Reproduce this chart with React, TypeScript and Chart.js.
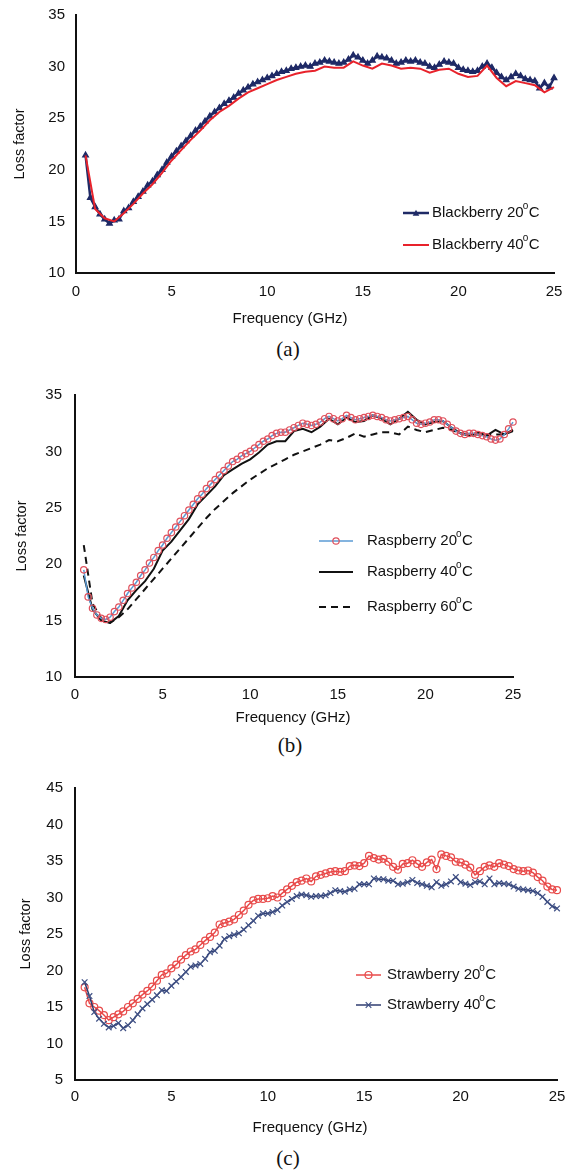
import React, { useEffect, useRef } from "react";
import { Chart, registerables } from "chart.js";
Chart.register(...registerables);

// ---------- data ----------
const freqQ = [0.5, 0.75, 1, 1.25, 1.5, 1.75, 2, 2.25, 2.5, 2.75, 3, 3.25, 3.5, 3.75, 4, 4.25, 4.5, 4.75, 5, 5.25, 5.5, 5.75, 6, 6.25, 6.5, 6.75, 7, 7.25, 7.5, 7.75, 8, 8.25, 8.5, 8.75, 9, 9.25, 9.5, 9.75, 10, 10.25, 10.5, 10.75, 11, 11.25, 11.5, 11.75, 12, 12.25, 12.5, 12.75, 13, 13.25, 13.5, 13.75, 14, 14.25, 14.5, 14.75, 15, 15.25, 15.5, 15.75, 16, 16.25, 16.5, 16.75, 17, 17.25, 17.5, 17.75, 18, 18.25, 18.5, 18.75, 19, 19.25, 19.5, 19.75, 20, 20.25, 20.5, 20.75, 21, 21.25, 21.5, 21.75, 22, 22.25, 22.5, 22.75, 23, 23.25, 23.5, 23.75, 24, 24.25, 24.5, 24.75, 25];
const freqH = [0.5, 1, 1.5, 2, 2.5, 3, 3.5, 4, 4.5, 5, 5.5, 6, 6.5, 7, 7.5, 8, 8.5, 9, 9.5, 10, 10.5, 11, 11.5, 12, 12.5, 13, 13.5, 14, 14.5, 15, 15.5, 16, 16.5, 17, 17.5, 18, 18.5, 19, 19.5, 20, 20.5, 21, 21.5, 22, 22.5, 23, 23.5, 24, 24.5, 25];

const blackberry20 = [21.4, 17.3, 16.4, 15.7, 15.2, 14.8, 15.1, 15.2, 16.0, 16.3,
  16.9, 17.4, 17.9, 18.5, 18.9, 19.5, 20.0, 20.7, 21.3, 21.8,
  22.3, 22.8, 23.3, 23.8, 24.2, 24.7, 25.2, 25.6, 26.0, 26.4,
  26.7, 27.0, 27.4, 27.7, 28.0, 28.3, 28.5, 28.7, 28.9, 29.1,
  29.3, 29.5, 29.6, 29.8, 29.9, 30.0, 30.1, 30.0, 30.3, 30.4,
  30.6, 30.5, 30.4, 30.3, 30.4, 30.7, 31.1, 30.9, 30.6, 30.3,
  30.6, 31.0, 30.9, 30.8, 30.6, 30.3, 30.4, 30.6, 30.5, 30.6,
  30.4, 30.3, 30.0, 29.9, 30.2, 30.5, 30.4, 30.3, 29.9, 29.7,
  29.6, 29.5, 29.6, 30.0, 30.3, 29.9, 29.4, 29.0, 28.7, 29.0,
  29.3, 29.1, 28.8, 28.7, 28.6, 27.9, 28.4, 28.0, 28.9];
const blackberry40 = [21.4, 16.2, 15.3, 15.0, 15.8, 16.7, 17.7, 18.6, 19.7, 20.9,
  21.9, 22.9, 23.8, 24.8, 25.6, 26.2, 26.9, 27.5, 27.9, 28.3,
  28.7, 29.0, 29.3, 29.5, 29.6, 30.0, 29.9, 29.9, 30.5, 30.1,
  29.8, 30.3, 30.1, 29.8, 29.9, 29.8, 29.4, 29.7, 29.8, 29.3,
  29.0, 29.1, 30.1, 28.9, 28.1, 28.6, 28.4, 28.2, 27.5, 28.0];

const raspberry20 = [19.5, 17.1, 16.1, 15.5, 15.2, 15.1, 15.3, 15.8, 16.2, 16.8,
  17.4, 17.9, 18.4, 19.0, 19.5, 20.1, 20.6, 21.2, 21.7, 22.3,
  22.8, 23.3, 23.8, 24.3, 24.8, 25.3, 25.8, 26.2, 26.7, 27.1,
  27.5, 27.9, 28.3, 28.7, 29.1, 29.3, 29.6, 29.8, 30.0, 30.3,
  30.6, 30.9, 31.1, 31.4, 31.6, 31.7, 31.7, 31.9, 32.1, 32.3,
  32.5, 32.4, 32.3, 32.4, 32.6, 32.9, 33.1, 32.9, 32.7, 32.9,
  33.2, 33.0, 32.8, 32.9, 33.0, 33.1, 33.2, 33.1, 33.0, 32.8,
  32.7, 32.8, 32.9, 33.0, 33.1, 32.8, 32.5, 32.4, 32.5, 32.6,
  32.8, 32.8, 32.7, 32.4, 32.1, 31.8, 31.6, 31.5, 31.6, 31.6,
  31.5, 31.4, 31.3, 31.1, 31.0, 31.1, 31.5, 32.0, 32.6];
const raspberry40 = [19.0, 16.0, 15.0, 14.8, 15.4, 16.8, 17.7, 18.5, 19.6, 21.2,
  22.0, 23.0, 24.0, 25.3, 26.1, 26.9, 27.9, 28.4, 28.9, 29.3,
  29.9, 30.6, 30.9, 30.9, 31.8, 32.0, 31.7, 32.2, 32.9, 32.4,
  33.0, 32.6, 32.7, 33.2, 32.9, 32.4, 32.9, 33.5, 32.8, 32.4,
  32.6, 32.7, 32.1, 31.6, 31.4, 31.7, 31.4, 31.9, 31.5, 31.9];
const raspberry60 = [21.7, 16.5, 15.2, 14.8, 15.3, 16.0, 16.9, 17.8, 18.7, 19.6,
  20.5, 21.4, 22.3, 23.2, 24.1, 24.9, 25.6, 26.3, 26.9, 27.5,
  28.0, 28.5, 28.9, 29.3, 29.7, 30.0, 30.3, 30.6, 31.0, 30.9,
  31.2, 31.6, 31.3, 31.5, 31.7, 31.7, 31.5, 32.2, 31.9, 31.7,
  31.9, 32.1, 31.9, 31.6, 31.5, 31.5, 31.4, 31.5, 31.5, 31.8];

const strawberry20 = [17.7, 15.5, 15.0, 14.5, 13.9, 13.2, 13.6, 14.0, 14.4, 15.0,
  15.5, 16.1, 16.7, 17.2, 17.8, 18.6, 19.4, 19.6, 20.3, 20.8,
  21.5, 22.1, 22.6, 22.9, 23.5, 24.1, 24.6, 25.2, 26.3, 26.5,
  26.7, 27.0, 27.6, 28.2, 29.0, 29.6, 29.8, 29.8, 29.9, 30.2,
  30.0, 30.6, 31.1, 31.6, 32.1, 32.3, 32.6, 32.2, 32.9, 33.1,
  33.3, 33.5, 33.6, 33.5, 33.6, 34.3, 34.4, 34.3, 34.7, 35.7,
  35.4, 35.2, 35.3, 34.9, 34.2, 33.8, 34.6, 34.7, 35.1, 34.6,
  34.2, 34.8, 35.2, 33.9, 35.9, 35.7, 35.5, 34.9, 34.8, 34.5,
  34.1, 33.1, 33.6, 34.2, 34.4, 34.2, 34.7, 34.5, 34.3, 33.9,
  33.7, 33.6, 33.7, 33.4, 32.8, 32.3, 31.5, 31.1, 31.0];
const strawberry40 = [18.4, 16.5, 14.3, 13.4, 12.7, 12.2, 12.4, 12.8, 12.1, 12.5,
  13.2, 14.0, 14.8, 15.4, 16.0, 16.6, 17.3, 17.2, 17.9, 18.5,
  19.1, 19.8, 20.5, 20.7, 20.9, 21.6, 22.5, 22.7, 23.4, 24.3,
  24.7, 24.9, 25.1, 25.6, 26.2, 26.8, 27.5, 27.8, 27.8, 28.0,
  28.3, 28.9, 29.4, 29.8, 30.2, 30.4, 30.3, 30.1, 30.2, 30.2,
  30.3, 30.6, 31.0, 30.9, 30.8, 31.1, 31.2, 31.8, 31.8, 31.8,
  32.6, 32.5, 32.5, 32.3, 32.3, 31.8, 31.9, 32.1, 32.4, 32.0,
  31.8, 31.6, 31.4, 32.1, 31.6, 31.8, 32.2, 32.8, 32.1, 31.9,
  31.7, 32.1, 32.2, 31.8, 32.6, 31.8, 32.0, 31.9, 31.8, 31.5,
  31.2, 31.1, 31.0, 30.9, 30.6, 30.1, 29.4, 28.8, 28.5];

const xTitle = "Frequency (GHz)";
const yTitle = "Loss factor";

// ---------- types ----------
type Series = {
  name: string;
  unit: string;
  x: number[];
  y: number[];
  color: string;
  width: number;
  dash?: number[];
  marker?: "triangle" | "circle" | "crossRot";
  markerColor?: string;
  markerRadius?: number;
  order: number;
};

type PanelCfg = {
  top: number;
  height: number;
  area: { l: number; r: number; t: number; b: number };
  yMin: number;
  yMax: number;
  yStep: number;
  yTitlePad: number;
  yTickPad: number;
  xTickPad: number;
  xTitlePos: { x: number; y: number };
  series: Series[];
  legend: { x1: number; x2: number; tx: number; rows: number[] };
  caption: string;
  captionPos: { x: number; y: number };
};

const FONT = "'Liberation Sans', Arial, sans-serif";
const W = 565;

function drawMarker(ctx: CanvasRenderingContext2D, kind: string, x: number, y: number, r: number, color: string) {
  ctx.save();
  ctx.strokeStyle = color;
  ctx.fillStyle = color;
  ctx.lineWidth = 1.2;
  ctx.setLineDash([]);
  ctx.beginPath();
  if (kind === "triangle") {
    ctx.moveTo(x, y - r);
    ctx.lineTo(x + r, y + r * 0.8);
    ctx.lineTo(x - r, y + r * 0.8);
    ctx.closePath();
    ctx.fill();
  } else if (kind === "circle") {
    ctx.arc(x, y, r, 0, Math.PI * 2);
    ctx.stroke();
  } else if (kind === "crossRot") {
    ctx.moveTo(x - r * 0.7, y - r * 0.7);
    ctx.lineTo(x + r * 0.7, y + r * 0.7);
    ctx.moveTo(x + r * 0.7, y - r * 0.7);
    ctx.lineTo(x - r * 0.7, y + r * 0.7);
    ctx.stroke();
  }
  ctx.restore();
}

function Panel({ cfg }: { cfg: PanelCfg }) {
  const ref = useRef<HTMLCanvasElement>(null);
  useEffect(() => {
    const canvas = ref.current!;
    const { area, top, height, legend } = cfg;
    const overlayPlugin = {
      id: "overlay",
      afterDraw(chart: any) {
        const ctx: CanvasRenderingContext2D = chart.ctx;
        // x axis title
        ctx.save();
        ctx.fillStyle = "#111";
        ctx.font = `15px ${FONT}`;
        ctx.textAlign = "center";
        ctx.textBaseline = "middle";
        ctx.fillText(xTitle, cfg.xTitlePos.x, cfg.xTitlePos.y - top);
        ctx.restore();
        // legend
        cfg.series.forEach((s, i) => {
          const y = legend.rows[i] - top;
          ctx.save();
          ctx.strokeStyle = s.color;
          ctx.lineWidth = s.width;
          ctx.setLineDash(s.dash || []);
          ctx.beginPath();
          ctx.moveTo(legend.x1, y);
          ctx.lineTo(legend.x2, y);
          ctx.stroke();
          ctx.restore();
          if (s.marker) drawMarker(ctx, s.marker, (legend.x1 + legend.x2) / 2, y, s.markerRadius || 3, s.markerColor || s.color);
          ctx.save();
          ctx.fillStyle = "#111";
          ctx.textBaseline = "middle";
          ctx.textAlign = "left";
          ctx.font = `15px ${FONT}`;
          ctx.fillText(s.name, legend.tx, y);
          const w1 = ctx.measureText(s.name).width;
          ctx.font = `10px ${FONT}`;
          ctx.fillText("o", legend.tx + w1 - 1, y - 7);
          ctx.font = `15px ${FONT}`;
          ctx.fillText(s.unit, legend.tx + w1 + 5, y);
          ctx.restore();
        });
      },
    };
    const chart = new Chart(canvas, {
      type: "line",
      data: {
        datasets: cfg.series.map((s) => ({
          label: s.name + "°" + s.unit,
          data: s.x.map((x, i) => ({ x, y: s.y[i] })),
          borderColor: s.color,
          backgroundColor: s.color,
          borderWidth: s.width,
          borderDash: s.dash || [],
          pointStyle: s.marker || "circle",
          pointRadius: s.marker ? s.markerRadius || 3 : 0,
          pointBorderColor: s.markerColor || s.color,
          pointBackgroundColor: s.marker === "triangle" ? s.markerColor || s.color : "rgba(0,0,0,0)",
          pointBorderWidth: 1.2,
          tension: 0,
          fill: false,
          clip: false,
          order: s.order,
        })),
      },
      options: {
        responsive: false,
        animation: false,
        devicePixelRatio: 1,
        layout: { padding: { left: 0, top: area.t - top, right: W - area.r, bottom: 0 } },
        plugins: { legend: { display: false }, tooltip: { enabled: false } },
        scales: {
          x: {
            type: "linear",
            min: 0,
            max: 25,
            ticks: { stepSize: 5, color: "#111", font: { family: FONT, size: 15 }, padding: cfg.xTickPad },
            grid: { display: false, drawTicks: false },
            border: { display: true, color: "#111", width: 2 },
            title: { display: false },
            afterFit: (s: any) => {
              s.height = top + height - area.b;
              s.paddingRight = 0;
              s.paddingLeft = 0;
            },
          },
          y: {
            type: "linear",
            min: cfg.yMin,
            max: cfg.yMax,
            ticks: { stepSize: cfg.yStep, color: "#111", font: { family: FONT, size: 15 }, padding: cfg.yTickPad },
            grid: { display: false, drawTicks: false },
            border: { display: true, color: "#111", width: 2 },
            title: { display: true, text: yTitle, color: "#111", font: { family: FONT, size: 14.5 }, padding: { top: cfg.yTitlePad, bottom: 0 } },
            afterFit: (s: any) => {
              s.width = area.l;
              s.paddingTop = 0;
              s.paddingBottom = 0;
            },
          },
        },
      },
      plugins: [overlayPlugin],
    } as any);
    return () => chart.destroy();
  }, [cfg]);
  return (
    <>
      <canvas ref={ref} width={W} height={cfg.height} style={{ position: "absolute", left: 0, top: cfg.top, width: W, height: cfg.height }} />
      <div style={{ position: "absolute", left: cfg.captionPos.x - 30, width: 60, top: cfg.captionPos.y - 12, height: 24, lineHeight: "24px", textAlign: "center", fontFamily: "'Liberation Serif', 'Times New Roman', serif", fontSize: 21, color: "#111" }}>{cfg.caption}</div>
    </>
  );
}

const NAVY = "#1f2a66";
const RED = "#e8222b";

const panels: PanelCfg[] = [
  {
    top: 0, height: 335,
    area: { l: 76, r: 554, t: 15, b: 273 },
    yMin: 10, yMax: 35, yStep: 5, yTitlePad: 11, yTickPad: 11, xTickPad: 10,
    xTitlePos: { x: 290, y: 319 },
    series: [
      { name: "Blackberry 20", unit: "C", x: freqQ, y: blackberry20, color: NAVY, width: 2.5, marker: "triangle", markerColor: NAVY, markerRadius: 3.3, order: 2 },
      { name: "Blackberry 40", unit: "C", x: freqH, y: blackberry40, color: RED, width: 2, order: 1 },
    ],
    legend: { x1: 403, x2: 429, tx: 432, rows: [213, 245] },
    caption: "(a)", captionPos: { x: 288, y: 349 },
  },
  {
    top: 380, height: 350,
    area: { l: 75, r: 513, t: 395, b: 677 },
    yMin: 10, yMax: 35, yStep: 5, yTitlePad: 13, yTickPad: 13, xTickPad: 9,
    xTitlePos: { x: 293, y: 718 },
    series: [
      { name: "Raspberry 20", unit: "C", x: freqQ, y: raspberry20, color: "#5b9bd5", width: 1.5, marker: "circle", markerColor: "#e0505c", markerRadius: 3.2, order: 1 },
      { name: "Raspberry 40", unit: "C", x: freqH, y: raspberry40, color: "#111", width: 2, order: 2 },
      { name: "Raspberry 60", unit: "C", x: freqH, y: raspberry60, color: "#111", width: 2, dash: [7, 5], order: 3 },
    ],
    legend: { x1: 319, x2: 353, tx: 367, rows: [541, 572, 607] },
    caption: "(b)", captionPos: { x: 290, y: 745 },
  },
  {
    top: 770, height: 370,
    area: { l: 75, r: 557, t: 788, b: 1080 },
    yMin: 5, yMax: 45, yStep: 5, yTitlePad: 17, yTickPad: 12, xTickPad: 8,
    xTitlePos: { x: 310, y: 1128 },
    series: [
      { name: "Strawberry 20", unit: "C", x: freqQ, y: strawberry20, color: "#e84a4a", width: 1.5, marker: "circle", markerColor: "#e84a4a", markerRadius: 3.5, order: 2 },
      { name: "Strawberry 40", unit: "C", x: freqQ, y: strawberry40, color: "#2f3d70", width: 1.5, marker: "crossRot", markerColor: "#3f5085", markerRadius: 4, order: 1 },
    ],
    legend: { x1: 356, x2: 381, tx: 387, rows: [975, 1005] },
    caption: "(c)", captionPos: { x: 288, y: 1158 },
  },
];

export default function App() {
  return (
    <div style={{ position: "absolute", left: 0, top: 0, width: W, height: 1170, background: "#fff", overflow: "hidden" }}>
      {panels.map((p, i) => <Panel key={i} cfg={p} />)}
    </div>
  );
}
